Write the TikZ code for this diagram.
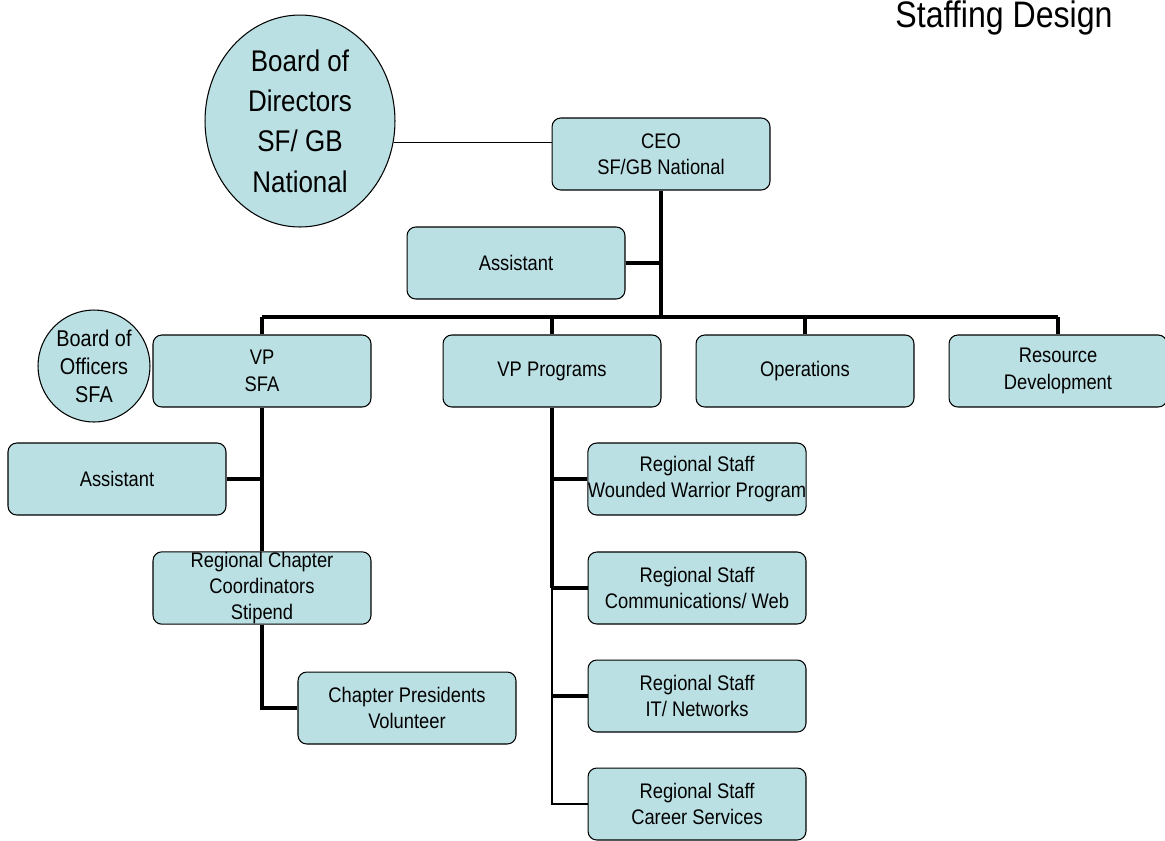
\documentclass[tikz,border=0pt]{standalone}
\usepackage{fontspec}
\setmainfont{Liberation Sans}[FakeStretch=0.87]
\usetikzlibrary{shapes.geometric}
\definecolor{boxfill}{RGB}{187,224,227}

\tikzset{
  unit/.style={draw, line width=0.6pt, fill=boxfill, rounded corners=5pt,
    minimum width=4.36cm, minimum height=1.44cm, inner xsep=0pt, inner ysep=0pt,
    align=center, font=\fontsize{12}{15}\selectfont},
  board/.style={draw, line width=0.6pt, fill=boxfill, ellipse, inner sep=0pt, align=center},
  link/.style={line width=2pt},
  thinlink/.style={line width=0.6pt},
}

\begin{document}
\begin{tikzpicture}[x=0.02cm, y=-0.02cm]
    \useasboundingbox (0,0) rectangle (1165,840);

    \node[font=\fontsize{21}{25}\selectfont, anchor=base] (title) at (1004,27) {Staffing Design};

    % boards
    \node[board, minimum width=3.8cm, minimum height=4.24cm,
          font=\fontsize{17}{23}\selectfont] (bod) at (300,121) {Board of\\Directors\\SF/ GB\\National};
    \node[board, minimum width=2.24cm, minimum height=2.24cm,
          font=\fontsize{13}{16}\selectfont] (boo) at (94,366) {Board of\\Officers\\SFA};

    % top level
    \node[unit] (ceo) at (661,154) {CEO\\SF/GB National};
    \node[unit] (asst) at (516,263) {Assistant};

    \node[unit] (vpsfa) at (262,371) {VP\\SFA};
    \node[unit] (vpprog) at (552,371) {VP Programs};
    \node[unit] (ops) at (805,371) {Operations};
    \node[unit] (resdev) at (1058,371) {Resource\\Development};

    % SFA side
    \node[unit] (sfaasst) at (117,479) {Assistant};
    \node[unit] (rcc) at (262,588) {Regional Chapter\\Coordinators\\Stipend};
    \node[unit] (chpres) at (407,708) {Chapter Presidents\\Volunteer};

    % programs side
    \node[unit] (wwp) at (697,479) {Regional Staff\\Wounded Warrior Program};
    \node[unit] (comm) at (697,588) {Regional Staff\\Communications/ Web};
    \node[unit] (itnet) at (697,696) {Regional Staff\\IT/ Networks};
    \node[unit] (career) at (697,804) {Regional Staff\\Career Services};

    \coordinate (hub) at (661,317);

    \draw[thinlink] (bod.-13) -- (bod.-13 -| ceo.west);
    \draw[link] (ceo.south) -- (hub);
    \draw[link] (asst.east) -- (asst.east -| hub);
    \draw[link] (vpsfa.north |- hub) -- (resdev.north |- hub);
    \foreach \n in {vpsfa, vpprog, ops, resdev}
        \draw[link] (\n.north |- hub) -- (\n.north);

    \draw[link] (vpsfa.south) -- (rcc.north);
    \draw[link] (sfaasst.east) -- (sfaasst.east -| vpsfa.south);
    \draw[link] (rcc.south) |- (chpres.west);

    \draw[link] (vpprog.south) -- (vpprog.south |- comm.west);
    \draw[link, line width=1.4pt] (vpprog.south |- comm.west) |- (career.west);
    \foreach \n in {wwp, comm, itnet}
        \draw[link] (\n.west) -- (\n.west -| vpprog.south);
\end{tikzpicture}
\end{document}
